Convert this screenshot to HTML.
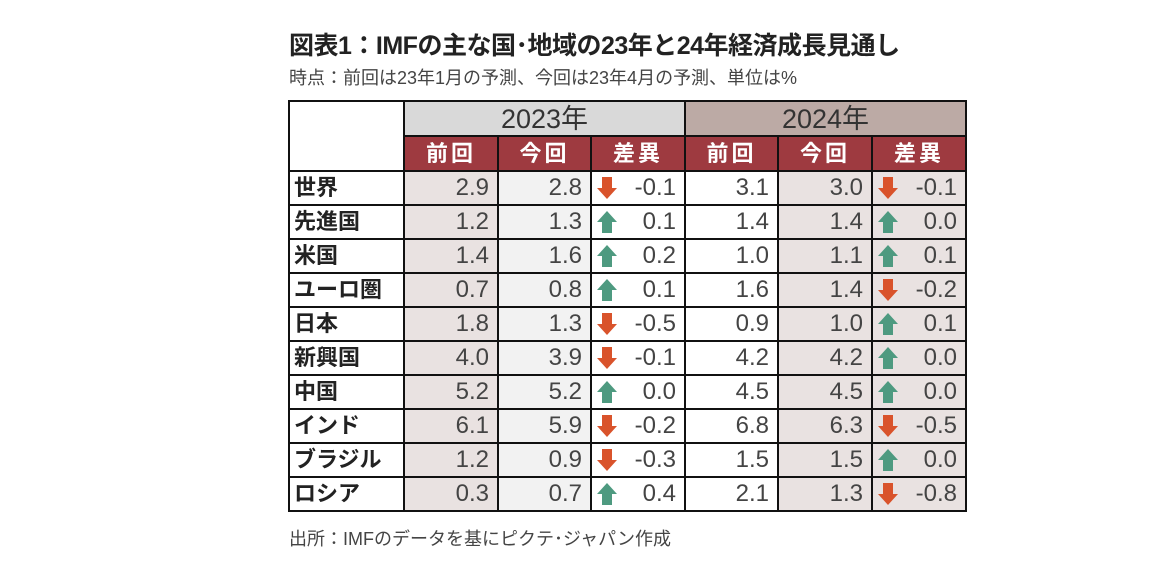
<!DOCTYPE html>
<html><head><meta charset="utf-8">
<style>
body{margin:0;width:1152px;height:580px;background:#fff;font-family:"Liberation Sans","Noto Sans CJK JP",sans-serif;position:relative;overflow:hidden;color:#222}
#title{position:absolute;left:289px;top:26px;font-size:25px;font-weight:bold;letter-spacing:-0.5px;white-space:nowrap}
#sub{position:absolute;left:289px;top:64px;font-size:18px;color:#444;white-space:nowrap}
#src{position:absolute;left:289px;top:525px;font-size:18px;color:#444;white-space:nowrap}
table{position:absolute;left:288px;top:100px;border-collapse:collapse;table-layout:fixed}
td{border:2px solid #111;padding:0;height:34px;font-size:22px;box-sizing:border-box;line-height:30px}
.yr{height:35px;text-align:center;font-size:27px;color:#333;font-weight:normal}
.hd{height:35px;background:#9e3a40;color:#fff;font-weight:bold;text-align:center;font-size:22px;letter-spacing:3px}
.lab{font-weight:bold;font-size:22px;padding-left:4px}
.num{text-align:right;padding-right:8px;color:#444;font-size:24px}
.dif{color:#444;font-size:24px}
.dif div{display:flex;align-items:center;justify-content:space-between;height:30px;padding:0 8px 0 4px}
.dif svg{display:block}
</style></head><body>
<div id="title">図表1：IMFの主な国･地域の23年と24年経済成長見通し</div>
<div id="sub">時点：前回は23年1月の予測、今回は23年4月の予測、単位は%</div>
<table id="tbl">
<colgroup><col style="width:115px"><col style="width:94px"><col style="width:93px"><col style="width:94px"><col style="width:93px"><col style="width:94px"><col style="width:94px"></colgroup>
<tr><td rowspan="2"></td>
<td colspan="3" class="yr" style="background:#d9d9d9">2023年</td>
<td colspan="3" class="yr" style="background:#bcaaa5">2024年</td></tr>
<tr><td class="hd">前回</td><td class="hd">今回</td><td class="hd">差異</td><td class="hd">前回</td><td class="hd">今回</td><td class="hd">差異</td></tr>
</table>
<div id="src">出所：IMFのデータを基にピクテ･ジャパン作成</div>
<script>
const regions=["世界","先進国","米国","ユーロ圏","日本","新興国","中国","インド","ブラジル","ロシア"];
const prev23=[2.9,1.2,1.4,0.7,1.8,4.0,5.2,6.1,1.2,0.3];
const curr23=[2.8,1.3,1.6,0.8,1.3,3.9,5.2,5.9,0.9,0.7];
const prev24=[3.1,1.4,1.0,1.6,0.9,4.2,4.5,6.8,1.5,2.1];
const curr24=[3.0,1.4,1.1,1.4,1.0,4.2,4.5,6.3,1.5,1.3];
const tbl=document.getElementById('tbl');
function arrow(d){
  if(d<0) return '<svg width="22" height="24" viewBox="0 0 22 24"><path d="M6 1h10v11h5L11 23 1 12h5z" fill="#d9532b"/></svg>';
  return '<svg width="22" height="24" viewBox="0 0 22 24"><path d="M11 1l10 11h-5v11H6V12H1z" fill="#4e9a80"/></svg>';
}
regions.forEach((r,i)=>{
  const tr=document.createElement('tr');
  
  
  const d23=Math.round((curr23[i]-prev23[i])*10)/10;
  const d24=Math.round((curr24[i]-prev24[i])*10)/10;
  const cells=[
    ['lab',r,'#fff','region-label'],
    ['num',prev23[i].toFixed(1),'#e9e2e1','prev-2023-value'],
    ['num',curr23[i].toFixed(1),'#f2f2f2','curr-2023-value'],
    ['dif',d23,'#fff','diff-2023-value'],
    ['num',prev24[i].toFixed(1),'#fff','prev-2024-value'],
    ['num',curr24[i].toFixed(1),'#e9e2e1','curr-2024-value'],
    ['dif',d24,'#e9e2e1','diff-2024-value']];
  cells.forEach(c=>{
    const td=document.createElement('td');
    
    
    td.className=c[0];td.style.background=c[2];
    if(c[0]==='dif'){td.innerHTML='<div>'+arrow(c[1])+'<span>'+c[1].toFixed(1)+'</span></div>';}
    else td.textContent=c[1];
    tr.appendChild(td);
  });
  tbl.appendChild(tr);
});
</script>
</body></html>
